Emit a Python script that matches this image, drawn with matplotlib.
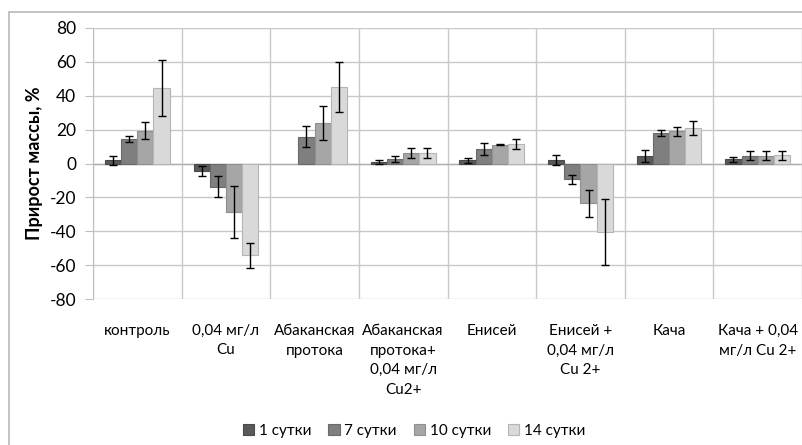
import matplotlib

matplotlib.use("Agg")
import matplotlib.pyplot as plt
import numpy as np
from matplotlib.patches import Rectangle

# mass gain (%) per treatment, one list per observation day
categories = [
    "контроль",
    "0,04 мг/л\nCu",
    "Абаканская\nпротока",
    "Абаканская\nпротока+\n0,04 мг/л\nCu2+",
    "Енисей",
    "Енисей +\n0,04 мг/л\nCu 2+",
    "Кача",
    "Кача + 0,04\nмг/л Cu 2+",
]
series_names = ["1 сутки", "7 сутки", "10 сутки", "14 сутки"]

day1 = [1.8, -4.3, np.nan, 0.8, 1.8, 2.2, 4.3, 2.4]
day7 = [14.5, -13.7, 15.7, 2.8, 8.8, -9.4, 18.0, 4.7]
day10 = [19.4, -28.4, 23.7, 6.2, 11.2, -23.5, 19.0, 4.7]
day14 = [44.5, -54.3, 45.3, 6.3, 11.6, -40.4, 21.0, 4.8]

err1 = [2.6, 3.0, np.nan, 1.0, 1.5, 3.1, 3.7, 1.5]
err7 = [2.0, 6.2, 6.2, 1.8, 3.5, 2.7, 1.7, 2.8]
err10 = [4.9, 15.4, 10.0, 3.0, 0.5, 7.8, 2.5, 2.8]
err14 = [16.5, 7.3, 14.8, 3.0, 3.0, 19.7, 4.0, 2.8]

FILLS = ["#595959", "#7f7f7f", "#a6a6a6", "#d9d9d9"]
EDGES = ["#4a4a4a", "#6a6a6a", "#8f8f8f", "#b5b5b5"]

plt.rcParams["font.family"] = ["Lato", "DejaVu Sans"]
plt.rcParams["font.size"] = 11
plt.rcParams["axes.unicode_minus"] = False

fig = plt.figure(figsize=(8.02, 4.45), dpi=100)
ax = fig.add_axes([93 / 802, 1 - 299 / 445, 709 / 802, 271 / 445])

values = [day1, day7, day10, day14]
errors = [err1, err7, err10, err14]
x = np.arange(len(categories))
width = 0.1825
for i, (vals, errs) in enumerate(zip(values, errors)):
    ax.bar(x + (i - 1.5) * width, vals, width=width, color=FILLS[i],
           edgecolor=EDGES[i], linewidth=0.8, label=series_names[i], zorder=2)
    ax.errorbar(x + (i - 1.5) * width, vals, yerr=errs, fmt="none",
                ecolor="black", elinewidth=1.0, capsize=3, capthick=1.0, zorder=3)

ax.set_xlim(-0.5, len(categories) - 0.5)
ax.set_ylim(-80, 80)
ax.set_yticks(np.arange(-80, 81, 20))
ax.set_xticks(x)
ax.set_xticklabels(categories, linespacing=1.5)
ax.set_xticks(np.arange(-0.5, len(categories), 1), minor=True)
ax.tick_params(axis="x", which="major", length=0, pad=18)
ax.tick_params(axis="x", which="minor", length=0)
ax.tick_params(axis="y", length=6, color="#bfbfbf", pad=6, labelsize=12.5)
ax.grid(axis="y", color="#c8c8c8", linewidth=1.0, zorder=0)
ax.grid(axis="x", which="minor", color="#c8c8c8", linewidth=1.0, zorder=0)
ax.axhline(0, color="#b0b0b0", linewidth=1.0, zorder=1)
for spine in ax.spines.values():
    spine.set_visible(False)
ax.spines["left"].set_visible(True)
ax.spines["left"].set_color("#bfbfbf")
ax.set_axisbelow(True)

ax.set_ylabel("Прирост массы, %", fontweight="bold", fontsize=13, labelpad=5)

fig.legend(loc="center", bbox_to_anchor=(414 / 802, 1 - 431 / 445), ncol=4,
           frameon=False, handlelength=0.75, handleheight=0.75,
           handletextpad=0.3, columnspacing=1.1, fontsize=11)

# chart-area frame
fig.patches.append(Rectangle((9 / 802, -0.1), 1.2, 1 - 12 / 445 + 0.1,
                             transform=fig.transFigure, fill=False,
                             edgecolor="#b8b8b8", linewidth=1.2))

fig.savefig("out.png", dpi=100)
